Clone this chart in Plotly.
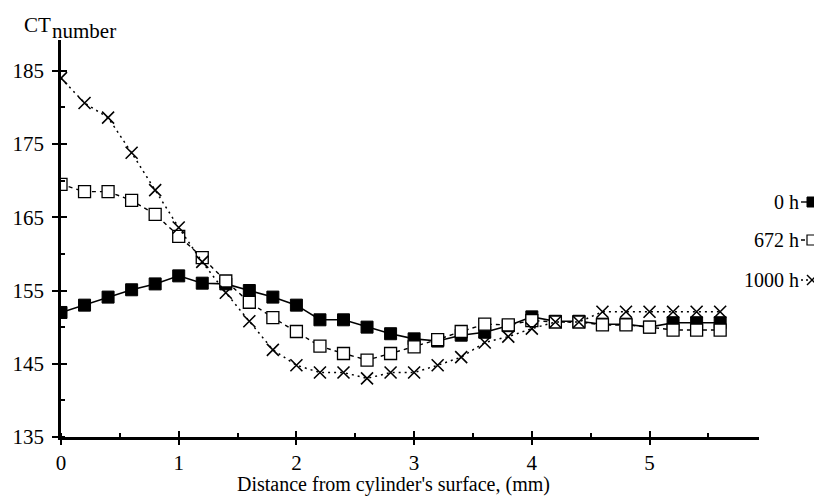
import plotly.graph_objects as go

# ---- data ----
distance_mm = [0.0, 0.2, 0.4, 0.6, 0.8, 1.0, 1.2, 1.4, 1.6, 1.8, 2.0, 2.2, 2.4, 2.6, 2.8,
               3.0, 3.2, 3.4, 3.6, 3.8, 4.0, 4.2, 4.4, 4.6, 4.8, 5.0, 5.2, 5.4, 5.6]
ct_0h = [152.0, 153.0, 154.1, 155.1, 155.9, 157.0, 156.0, 155.9, 155.0, 154.1, 153.0, 151.0,
         151.0, 150.0, 149.1, 148.4, 148.1, 148.9, 149.3, 150.2, 151.4, 150.8, 150.8, 150.4,
         150.4, 150.0, 150.6, 150.6, 150.6]
ct_672h = [169.5, 168.5, 168.5, 167.3, 165.4, 162.4, 159.5, 156.3, 153.4, 151.3, 149.4, 147.4,
           146.4, 145.5, 146.4, 147.3, 148.3, 149.4, 150.4, 150.3, 150.9, 150.7, 150.7, 150.3,
           150.3, 150.0, 149.6, 149.6, 149.6]
ct_1000h = [184.0, 180.6, 178.6, 173.8, 168.7, 163.6, 158.9, 154.7, 150.8, 146.9, 144.8, 143.8,
            143.8, 143.0, 143.8, 143.8, 144.8, 145.9, 147.9, 148.7, 149.8, 150.7, 150.7, 152.1,
            152.1, 152.1, 152.1, 152.1, 152.1]
series_names = ["0 h", "672 h", "1000 h"]
x_range = [0, 5.93]
y_range = [135, 189.2]

FONT = "Liberation Serif, Times New Roman, serif"
OFF = 8  # page body margin
W, H = 822 - OFF, 496 - OFF
ML, MR, MT, MB = 61 - OFF, 63, 40 - OFF, 59
PW, PH = W - ML - MR, H - MT - MB


def px(xs):
    """screen x (pixels) -> paper x"""
    return (xs - OFF - ML) / PW


def py(ys):
    """screen y (pixels) -> paper y"""
    return (H - MB - (ys - OFF)) / PH


fig = go.Figure()

fig.add_trace(go.Scatter(
    x=distance_mm, y=ct_0h, mode="lines+markers", name=series_names[0],
    line=dict(color="black", width=1.6),
    marker=dict(symbol="square", size=12, color="black", line=dict(color="black", width=1)),
    showlegend=False))
fig.add_trace(go.Scatter(
    x=distance_mm, y=ct_672h, mode="lines+markers", name=series_names[1],
    line=dict(color="black", width=1.4, dash="4px,4px"),
    marker=dict(symbol="square", size=12, color="white", line=dict(color="black", width=1.3)),
    showlegend=False))
fig.add_trace(go.Scatter(
    x=distance_mm, y=ct_1000h, mode="lines+markers", name=series_names[2],
    line=dict(color="black", width=1.5, dash="2px,4px"),
    marker=dict(symbol="x-thin", size=12, color="black", line=dict(color="black", width=1.6)),
    showlegend=False))
# empty trace so the overlay axes (crossing tick marks) get drawn
fig.add_trace(go.Scatter(x=[], y=[], xaxis="x2", yaxis="y2", showlegend=False,
                         hoverinfo="skip"))

axis_common = dict(showgrid=False, zeroline=False, color="black",
                   tickfont=dict(family=FONT, size=21, color="black"))

fig.update_layout(
    width=W, height=H,
    margin=dict(l=ML, r=MR, t=MT, b=MB, autoexpand=False),
    paper_bgcolor="white", plot_bgcolor="white",
    font=dict(family=FONT, color="black"),
    xaxis=dict(range=x_range, tick0=0, dtick=1, ticks="outside", ticklen=5, tickwidth=2,
               tickcolor="black", showline=True, linewidth=2.5, linecolor="black",
               minor=dict(ticks="inside", tick0=0, dtick=0.5, ticklen=4, tickwidth=2,
                          tickcolor="black"),
               ticklabelstandoff=0, automargin=False, **axis_common),
    yaxis=dict(range=y_range, tick0=135, dtick=10, ticks="outside", ticklen=6, tickwidth=2,
               tickcolor="black", showline=True, linewidth=2.5, linecolor="black",
               minor=dict(ticks="inside", tick0=135, dtick=5, ticklen=4, tickwidth=2,
                          tickcolor="black"),
               ticklabelstandoff=4, automargin=False, **axis_common),
    xaxis2=dict(overlaying="x", anchor="y2", side="bottom", range=x_range, tick0=0, dtick=1,
                ticks="inside", ticklen=6, tickwidth=2, tickcolor="black",
                showticklabels=False, showline=False, showgrid=False, zeroline=False),
    yaxis2=dict(overlaying="y", anchor="x2", side="left", range=y_range, tick0=135, dtick=10,
                ticks="inside", ticklen=6, tickwidth=2, tickcolor="black",
                showticklabels=False, showline=False, showgrid=False, zeroline=False),
)

annotations = [
    dict(text="CT", x=px(22), y=py(25), xref="paper", yref="paper", xanchor="left",
         yanchor="middle", showarrow=False, font=dict(family=FONT, size=21, color="black")),
    dict(text="number", x=px(50), y=py(31), xref="paper", yref="paper", xanchor="left",
         yanchor="middle", showarrow=False, font=dict(family=FONT, size=21, color="black")),
    dict(text="Distance from cylinder's surface, (mm)", x=px(393), y=py(484), xref="paper",
         yref="paper", xanchor="center", yanchor="middle", showarrow=False,
         font=dict(family=FONT, size=20, color="black")),
]

shapes = []
legend_rows = [202, 240, 280]
line_dashes = ["solid", "4px,3px", "2px,3px"]
for name, yrow, dsh in zip(series_names, legend_rows, line_dashes):
    annotations.append(dict(text=name, x=px(801), y=py(yrow), xref="paper", yref="paper",
                            xanchor="right", yanchor="middle", showarrow=False,
                            font=dict(family=FONT, size=20, color="black")))
    shapes.append(dict(type="line", xref="paper", yref="paper", x0=px(801), x1=px(820),
                       y0=py(yrow), y1=py(yrow), line=dict(color="black", width=1.4, dash=dsh)))

# legend keys
s = 5
for i, yrow in enumerate(legend_rows):
    cx = 812
    if i == 0:
        shapes.append(dict(type="rect", xref="paper", yref="paper", x0=px(cx - s), x1=px(cx + s),
                           y0=py(yrow + s), y1=py(yrow - s), fillcolor="black",
                           line=dict(color="black", width=1)))
    elif i == 1:
        shapes.append(dict(type="rect", xref="paper", yref="paper", x0=px(cx - s), x1=px(cx + s),
                           y0=py(yrow + s), y1=py(yrow - s), fillcolor="white",
                           line=dict(color="black", width=1.2)))
    else:
        for a, b in [(-1, 1), (1, -1)]:
            shapes.append(dict(type="line", xref="paper", yref="paper",
                               x0=px(cx - s), x1=px(cx + s),
                               y0=py(yrow + a * s), y1=py(yrow + b * s),
                               line=dict(color="black", width=1.4)))

fig.update_layout(annotations=annotations, shapes=shapes)

fig.write_html("out.html")
